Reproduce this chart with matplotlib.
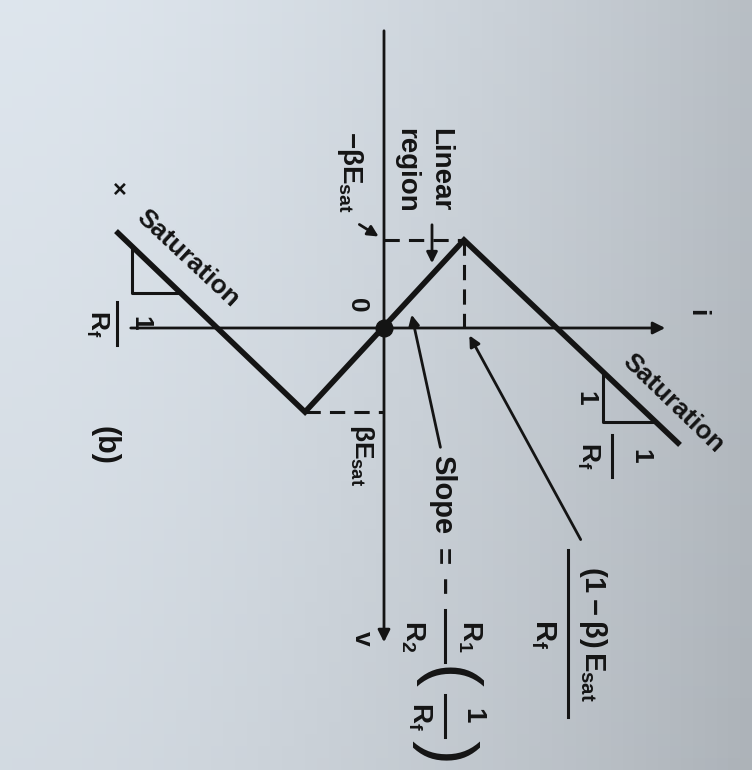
import numpy as np
import matplotlib
matplotlib.use("Agg")
import matplotlib.pyplot as plt
from matplotlib import font_manager

# diagram coordinates: i to the right, v downward, origin at the axes crossing
curve_i = [-266, -79, 80, 294]
curve_v = [-95, 84, -88, 115]
i_axis = [-256, 284]
v_axis = [-300, 317]
peak_i, peak_v = 80, -88
valley_i, valley_v = -79, 84
# slope triangles: (leg position on i, leg level on v)
left_tri = (-252, -35)
right_tri = (219, 94)

names = {f.name for f in font_manager.fontManager.ttflist}
FONT = "Liberation Sans Narrow" if "Liberation Sans Narrow" in names else "Liberation Sans"
plt.rcParams['font.family'] = [FONT, 'DejaVu Sans']
plt.rcParams['mathtext.fontset'] = 'custom'
plt.rcParams['mathtext.rm'] = FONT + ':bold'
plt.rcParams['mathtext.it'] = FONT + ':bold'
plt.rcParams['mathtext.bf'] = FONT + ':bold'

INK = "#141414"

fig = plt.figure(figsize=(7.52, 7.70), dpi=100)
ax = fig.add_axes([0, 0, 1, 1])
ax.set_xlim(-384, 368)
ax.set_ylim(442, -328)
ax.axis("off")

# paper background (lighter top-left, darker to the right)
gx, gy = np.meshgrid(np.linspace(0, 1, 64), np.linspace(0, 1, 64))
shade = 1 - 0.17 * gx ** 1.6 - 0.05 * gy
light = np.array([0.87, 0.90, 0.93])
bg = shade[..., None] * light[None, None, :]
ax.imshow(bg, extent=(-384, 368, 442, -328), aspect="auto", zorder=0)

# axes
ax.annotate("", xy=(i_axis[1], 0), xytext=(i_axis[0], 0),
            arrowprops=dict(arrowstyle="-|>", lw=2.0, color=INK, mutation_scale=18))
ax.annotate("", xy=(0, v_axis[1]), xytext=(0, v_axis[0]),
            arrowprops=dict(arrowstyle="-|>", lw=2.0, color=INK, mutation_scale=18))

# characteristic
ax.plot(curve_i, curve_v, color=INK, lw=4.0, solid_joinstyle="miter", zorder=3)
ax.plot([0], [0], "o", color=INK, ms=12, zorder=4)

# dashed guides
dash = dict(color=INK, lw=2.2, ls=(0, (5, 3)), zorder=2)
ax.plot([0, peak_i], [peak_v, peak_v], **dash)
ax.plot([peak_i, peak_i], [peak_v, 0], **dash)
ax.plot([valley_i, 0], [valley_v, valley_v], **dash)

# slope triangles
xi = np.array(curve_i)
yv = np.array(curve_v)
for leg_i, leg_v, seg in [(left_tri[0], left_tri[1], slice(0, 2)), (right_tri[0], right_tri[1], slice(2, 4))]:
    top_v = np.interp(leg_i, xi[seg], yv[seg])
    end_i = np.interp(leg_v, yv[seg], xi[seg])
    ax.plot([leg_i, leg_i, end_i], [top_v, leg_v, leg_v], color=INK, lw=2.2, zorder=2)

txt = dict(color=INK, fontweight="bold", ha="center", va="center", rotation=270)

# Saturation labels
ax.text(-196, -70, "Saturation", color=INK, fontweight="bold", fontsize=19,
        rotation=-43, ha="center", va="center")
ax.text(289, 75, "Saturation", color=INK, fontweight="bold", fontsize=19,
        rotation=-44, ha="center", va="center")
ax.text(-264, -138, "×", color=INK, fontsize=17, fontweight="bold", ha="center", va="center")

# fractions 1/R_f
def frac(x, y0, y1, num, den, num_dx, den_dx, size=19):
    ax.plot([x, x], [y0, y1], color=INK, lw=2.2)
    yc = (y0 + y1) / 2
    ax.text(x + num_dx, yc, num, fontsize=size, **txt)
    ax.text(x + den_dx, yc, den, fontsize=size, **txt)

frac(-267, -26, 17, "1", r"$R_f$", 23, -20)
frac(228, 107, 149, "1", r"$R_f$", 28, -24)
ax.text(201, 70, "1", fontsize=19, **txt)

# labels near origin
ax.text(-27, -23, "0", fontsize=19, **txt)
ax.text(56, -158, "Linear", fontsize=20, **txt)
ax.text(22, -158, "region", fontsize=20, **txt)
ax.text(-34, -156, r"$-\beta E_{sat}$", fontsize=20, **txt)
ax.text(-22, 127, r"$\beta E_{sat}$", fontsize=19, **txt)
ax.text(313, -15, "i", fontsize=19, **txt)
ax.text(-22, 310, "v", fontsize=19, **txt)
ax.text(-279, 117, "(b)", fontsize=22, **txt)

arrow = dict(arrowstyle="-|>", lw=2.0, color=INK, mutation_scale=16)
ax.annotate("", xy=(-3, -90), xytext=(-27, -105), arrowprops=arrow)
ax.annotate("", xy=(48, -62), xytext=(48, -106), arrowprops=arrow)
ax.annotate("", xy=(27, -16), xytext=(57, 122), arrowprops=arrow)
ax.annotate("", xy=(84, 5), xytext=(198, 214), arrowprops=arrow)

# slope expression
ax.text(58, 167, "Slope", fontsize=21, **txt)
ax.text(58, 229, "=", fontsize=21, **txt)
ax.text(58, 259, "−", fontsize=21, **txt)
frac(61, 282, 334, r"$R_1$", r"$R_2$", 25, -32, size=20)
frac(61, 367, 409, "1", r"$R_f$", 27, -25, size=20)
ax.text(61, 350, "(", fontsize=52, color=INK, rotation=270, ha="center", va="center")
ax.text(61, 424, ")", fontsize=52, color=INK, rotation=270, ha="center", va="center")

# (1 - beta) E_sat / R_f
frac(184, 222, 389, r"$(1-\beta)\,E_{sat}$", r"$R_f$", 25, -25, size=21)

fig.savefig("out.png", dpi=100)
